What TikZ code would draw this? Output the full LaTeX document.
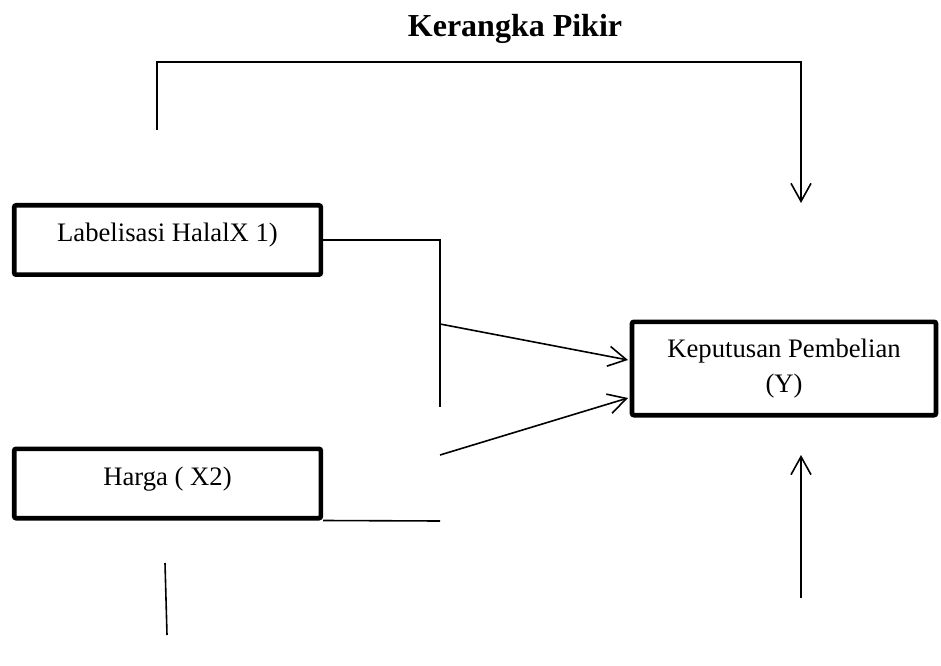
\documentclass[tikz,border=0pt]{standalone}
\usepackage{fontspec}
\setmainfont{Liberation Serif}
\usetikzlibrary{arrows.meta,positioning}

\tikzset{
  boxline/.style={draw, line width=3.5pt, rounded corners=1.5pt, font=\fontsize{20}{26}\selectfont},
  varbox/.style={boxline, minimum width=230pt, minimum height=52pt, text height=15pt, text depth=12pt},
}

\begin{document}
\begin{tikzpicture}[x=0.75pt,y=-0.75pt,>={Straight Barb[length=13.5pt,width=15pt]},line width=1.2pt]
  \useasboundingbox (0,0) rectangle (941,666);
  \node [anchor=base, font=\fontsize{24}{28}\selectfont\bfseries] (title) at (515,37) {Kerangka Pikir};

  \node [varbox] (lab) at (167.5,240) {Labelisasi HalalX 1)};
  \node [varbox] (har) at (167.5,483.5) {Harga ( X2)};
  \node [boxline, minimum width=228pt, minimum height=70pt, align=center] (kep) at (784,368.5) {Keputusan Pembelian\\(Y)};

  \coordinate (topL) at (157,130);
  \coordinate (topR) at (801,203);
  \coordinate (botB) at (801,598);
  \coordinate (botT) at (801,455);
  \coordinate (join) at (440,240);
  \coordinate (joinEnd) at (440,407);
  \coordinate (fromA) at (440,324);
  \coordinate (fromB) at (440,455);
  \coordinate (inA) at (628,360);
  \coordinate (inB) at (628,398);
  \coordinate (hEnd) at (440,521);
  \coordinate (stubT) at (165,563);
  \coordinate (stubB) at (167,635);

  %\draw (title) -- (topL);
  \draw [->] (topL) -- ++(0,-68) -| (topR);
  \draw [->] (botB) -- (botT);

  \draw (lab.east) -- (join) -- (joinEnd);
  \draw [->] (fromA) -- (inA);
  \draw [->] (fromB) -- (inB);
  \draw (har.south east) -- (hEnd);
  \draw (stubT) -- (stubB);
\end{tikzpicture}
\end{document}
